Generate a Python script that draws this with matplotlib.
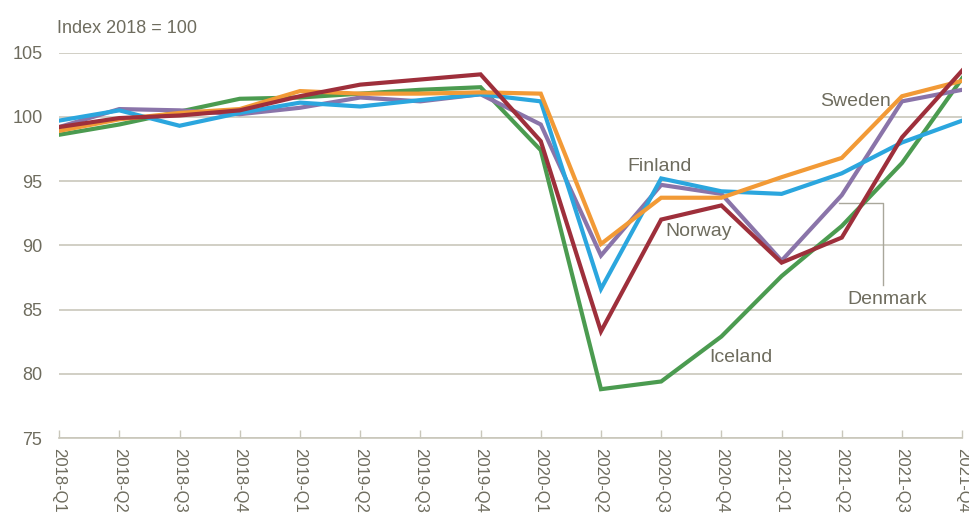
import matplotlib
matplotlib.use("Agg")
import matplotlib.pyplot as plt

plt.rcParams['font.family'] = ['Liberation Sans', 'DejaVu Sans']

quarters = ['2018-Q1', '2018-Q2', '2018-Q3', '2018-Q4',
            '2019-Q1', '2019-Q2', '2019-Q3', '2019-Q4',
            '2020-Q1', '2020-Q2', '2020-Q3', '2020-Q4',
            '2021-Q1', '2021-Q2', '2021-Q3', '2021-Q4']

iceland = [98.6, 99.4, 100.4, 101.4, 101.5, 101.8, 102.1, 102.3,
           97.4, 78.8, 79.4, 82.9, 87.6, 91.5, 96.4, 103.0]
denmark = [99.2, 100.6, 100.5, 100.2, 100.7, 101.5, 101.2, 101.75,
           99.4, 89.2, 94.7, 94.0, 88.8, 93.9, 101.2, 102.1]
finland = [99.7, 100.5, 99.3, 100.3, 101.1, 100.8, 101.3, 101.75,
           101.2, 86.6, 95.2, 94.2, 94.0, 95.6, 98.0, 99.7]
sweden = [98.9, 99.8, 100.3, 100.6, 102.0, 101.8, 101.8, 101.9,
          101.8, 90.1, 93.7, 93.7, 95.3, 96.8, 101.6, 102.8]
norway = [99.2, 99.9, 100.1, 100.5, 101.6, 102.5, 102.9, 103.3,
          98.1, 83.3, 92.0, 93.1, 88.65, 90.6, 98.4, 103.6]

series = [
    ('Iceland', iceland, '#4b9b50'),
    ('Denmark', denmark, '#8a74a9'),
    ('Finland', finland, '#2ba6de'),
    ('Sweden', sweden, '#f29a36'),
    ('Norway', norway, '#9e2f3b'),
]

txt_col = '#6e6c5e'
grid_col = '#c9c7bb'

fig = plt.figure(figsize=(9.69, 5.18), dpi=100)
ax = fig.add_axes([0.061, 0.1544, 0.932, 0.7442])

x = list(range(len(quarters)))
for name, vals, col in series:
    ax.plot(x, vals, color=col, lw=3.0, solid_joinstyle='miter', zorder=3)

ax.set_xlim(0, len(quarters) - 1)
ax.set_ylim(75, 105)
ax.set_yticks([75, 80, 85, 90, 95, 100, 105])
ax.set_xticks(x)
ax.set_xticklabels(quarters, rotation=270, ha='center', va='top')

ax.yaxis.grid(True, color=grid_col, lw=1.2)
ax.set_axisbelow(True)
for s in ['top', 'right', 'left']:
    ax.spines[s].set_visible(False)
ax.spines['bottom'].set_color(grid_col)
ax.spines['bottom'].set_linewidth(1.2)
ax.tick_params(axis='y', length=0, pad=12, labelsize=13, labelcolor=txt_col)
ax.tick_params(axis='x', direction='in', length=6, width=1, color=grid_col,
               pad=7, labelsize=12, labelcolor=txt_col)

fig.text(0.059, 0.945, 'Index 2018 = 100', color=txt_col, fontsize=13,
         ha='left', va='center')

lab_kw = dict(color=txt_col, fontsize=14, ha='center', va='center')
ax.text(13.22, 101.2, 'Sweden', **lab_kw)
ax.text(9.98, 96.1, 'Finland', **lab_kw)
ax.text(10.63, 91.05, 'Norway', **lab_kw)
ax.text(13.75, 85.8, 'Denmark', **lab_kw)
ax.text(11.33, 81.3, 'Iceland', **lab_kw)

# leader line for Denmark
ax.plot([12.95, 13.68, 13.68], [93.3, 93.3, 86.9], color='#a9a79b', lw=1, zorder=2)

fig.savefig('out.png', dpi=100)
